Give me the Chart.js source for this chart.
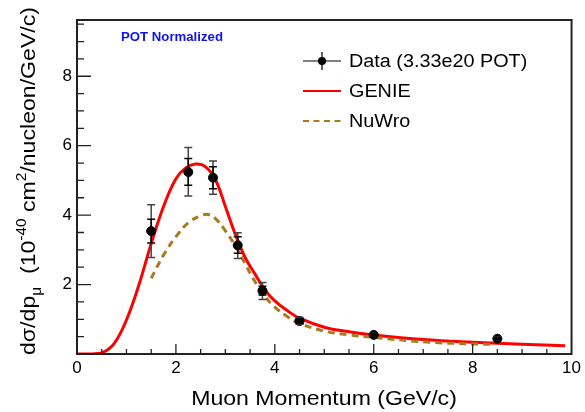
<!DOCTYPE html>
<html>
<head>
<meta charset="utf-8">
<script src="https://cdn.jsdelivr.net/npm/chart.js@4.4.1/dist/chart.umd.min.js"></script>
<style>
  html, body { margin: 0; padding: 0; background: #fff; }
  #wrap { width: 585px; height: 412px; }
</style>
</head>
<body>
<div id="wrap"><canvas id="xsecChart"></canvas></div>
<script>
// Data points (muon momentum bins) with stat and total errors
const dataX = [1.5, 2.25, 2.75, 3.25, 3.75, 4.5, 6.0, 8.5];
const dataY = [3.54, 5.24, 5.08, 3.13, 1.82, 0.95, 0.55, 0.44];
const statLow = [3.20, 4.86, 4.76, 2.90, 1.70, 0.88, 0.52, 0.41];
const statHigh = [3.88, 5.63, 5.39, 3.38, 1.95, 1.02, 0.58, 0.47];
const totLow = [2.78, 4.55, 4.60, 2.75, 1.57, 0.86, 0.51, 0.40];
const totHigh = [4.30, 5.95, 5.56, 3.49, 2.06, 1.06, 0.59, 0.48];

// GENIE prediction
const genieX = [0, 0.25, 0.5, 0.75, 1.0, 1.25, 1.5, 1.75, 2.0, 2.2, 2.4, 2.6, 2.8, 3.0, 3.2, 3.4, 3.6, 3.8, 4.0, 4.25, 4.5, 5.0, 5.5, 6.0, 7.0, 8.0, 9.0, 9.87];
const genieY = [0, 0, 0.03, 0.30, 0.98, 1.98, 3.18, 4.25, 5.05, 5.36, 5.47, 5.39, 5.02, 4.25, 3.45, 2.78, 2.30, 1.85, 1.53, 1.25, 1.03, 0.77, 0.64, 0.55, 0.42, 0.34, 0.28, 0.24];

// NuWro prediction
const nuwroX = [1.5, 1.75, 2.0, 2.25, 2.5, 2.65, 2.8, 3.0, 3.2, 3.4, 3.6, 3.8, 4.0, 4.25, 4.5, 5.0, 5.5, 6.0, 7.0, 8.0, 8.42];
const nuwroY = [2.18, 2.85, 3.38, 3.78, 3.98, 4.02, 3.90, 3.55, 3.12, 2.60, 2.08, 1.66, 1.35, 1.08, 0.88, 0.66, 0.55, 0.48, 0.35, 0.29, 0.28];

const xTicks = [0, 2, 4, 6, 8, 10];
const yTicks = [2, 4, 6, 8];

const legendLabels = ['Data (3.33e20 POT)', 'GENIE', 'NuWro'];

const FONT = '"Liberation Sans", Arial, Helvetica, sans-serif';
const STRETCH = 1.1;
const NUWRO_COLOR = '#a8791f';

function toPoints(xs, ys) {
    return xs.map((x, i) => ({ x: x, y: ys[i] }));
}

// draw text stretched horizontally (reference text is a bit wide)
function stretchText(ctx, text, x, y, align) {
    ctx.save();
    ctx.translate(x, y);
    ctx.scale(STRETCH, 1);
    ctx.textAlign = align || 'left';
    ctx.fillText(text, 0, 0);
    ctx.restore();
}

// ROOT-style frame, inner ticks, error bars, legend and titles
const rootDecor = {
    id: 'rootDecor',
    afterDatasetsDraw(chart) {
        const ctx = chart.ctx;
        const xs = chart.scales.x;
        const ys = chart.scales.y;
        ctx.save();
        dataX.forEach((x, i) => {
            const px = xs.getPixelForValue(x);
            // total error
            ctx.strokeStyle = '#444';
            ctx.lineWidth = 1.5;
            const t1 = ys.getPixelForValue(totHigh[i]);
            const t2 = ys.getPixelForValue(totLow[i]);
            ctx.beginPath();
            ctx.moveTo(px, t1); ctx.lineTo(px, t2);
            ctx.moveTo(px - 4, t1); ctx.lineTo(px + 4, t1);
            ctx.moveTo(px - 4, t2); ctx.lineTo(px + 4, t2);
            ctx.stroke();
            // stat error
            ctx.strokeStyle = '#000';
            const s1 = ys.getPixelForValue(statHigh[i]);
            const s2 = ys.getPixelForValue(statLow[i]);
            ctx.beginPath();
            ctx.moveTo(px, s1); ctx.lineTo(px, s2);
            ctx.moveTo(px - 4, s1); ctx.lineTo(px + 4, s1);
            ctx.moveTo(px - 4, s2); ctx.lineTo(px + 4, s2);
            ctx.stroke();
        });
        ctx.restore();
    },
    afterDraw(chart) {
        const ctx = chart.ctx;
        const area = chart.chartArea;
        const xs = chart.scales.x;
        const ys = chart.scales.y;
        ctx.save();

        // frame
        ctx.strokeStyle = '#222';
        ctx.lineWidth = 2;
        ctx.strokeRect(area.left, area.top, area.right - area.left, area.bottom - area.top);

        // inner ticks, minor every 0.5, major every 2
        ctx.lineWidth = 1.3;
        ctx.beginPath();
        for (let v = 0.5; v < 10; v += 0.5) {
            const px = xs.getPixelForValue(v);
            const len = (v % 2 === 0) ? 10 : 5;
            ctx.moveTo(px, area.bottom); ctx.lineTo(px, area.bottom - len);
        }
        for (let v = 0.5; v <= 9.5; v += 0.5) {
            const py = ys.getPixelForValue(v);
            const len = (v % 2 === 0) ? 14 : 7;
            ctx.moveTo(area.left, py); ctx.lineTo(area.left + len, py);
        }
        ctx.stroke();

        // POT Normalized label
        ctx.fillStyle = '#1010f0';
        ctx.font = 'bold 12px ' + FONT;
        ctx.textBaseline = 'alphabetic';
        stretchText(ctx, 'POT Normalized', 121, 41);

        // legend
        ctx.fillStyle = '#000';
        ctx.font = '18px ' + FONT;
        const lx1 = 303, lx2 = 341, tx = 349;
        const rows = [61, 91, 121];
        // data entry
        ctx.strokeStyle = '#000';
        ctx.lineWidth = 1.2;
        ctx.beginPath();
        ctx.moveTo(lx1, rows[0]); ctx.lineTo(lx2, rows[0]);
        ctx.moveTo((lx1 + lx2) / 2, rows[0] - 9); ctx.lineTo((lx1 + lx2) / 2, rows[0] + 9);
        ctx.stroke();
        ctx.beginPath();
        ctx.arc((lx1 + lx2) / 2, rows[0], 4, 0, Math.PI * 2);
        ctx.fill();
        // GENIE entry
        ctx.strokeStyle = '#ff0000';
        ctx.lineWidth = 2;
        ctx.beginPath();
        ctx.moveTo(lx1, rows[1]); ctx.lineTo(lx2, rows[1]);
        ctx.stroke();
        // NuWro entry
        ctx.strokeStyle = NUWRO_COLOR;
        ctx.setLineDash([6, 4.5]);
        ctx.beginPath();
        ctx.moveTo(lx1, rows[2]); ctx.lineTo(lx2, rows[2]);
        ctx.stroke();
        ctx.setLineDash([]);
        legendLabels.forEach((label, i) => {
            stretchText(ctx, label, tx, rows[i] + 6);
        });

        // x title
        ctx.font = '21px ' + FONT;
        stretchText(ctx, 'Muon Momentum (GeV/c)', 324, 405, 'center');

        // y title with sub/superscripts, rotated
        const parts = [
            { t: 'dσ/dp', s: 21, dy: 0 },
            { t: 'μ', s: 14, dy: 6 },
            { t: '  (10', s: 21, dy: 0 },
            { t: '-40', s: 14, dy: -9 },
            { t: ' cm', s: 21, dy: 0 },
            { t: '2', s: 14, dy: -9 },
            { t: '/nucleon/GeV/c)', s: 21, dy: 0 }
        ];
        let total = 0;
        parts.forEach(p => {
            ctx.font = p.s + 'px ' + FONT;
            p.w = ctx.measureText(p.t).width * STRETCH;
            total += p.w;
        });
        ctx.translate(35, 181);
        ctx.rotate(-Math.PI / 2);
        let cx = -total / 2;
        parts.forEach(p => {
            ctx.font = p.s + 'px ' + FONT;
            ctx.save();
            ctx.translate(cx, p.dy);
            ctx.scale(STRETCH, 1);
            ctx.textAlign = 'left';
            ctx.fillText(p.t, 0, 0);
            ctx.restore();
            cx += p.w;
        });
        ctx.restore();
    }
};

const ctx = document.getElementById('xsecChart').getContext('2d');
const xsecChart = new Chart(ctx, {
    type: 'scatter',
    data: {
        datasets: [
            {
                label: 'Data (3.33e20 POT)',
                data: toPoints(dataX, dataY),
                backgroundColor: '#000',
                borderColor: '#000',
                pointRadius: 4.5,
                pointHoverRadius: 4.5,
                order: 0
            },
            {
                label: 'GENIE',
                data: toPoints(genieX, genieY),
                showLine: true,
                borderColor: '#ff0000',
                borderWidth: 3,
                pointRadius: 0,
                tension: 0.4,
                order: 2
            },
            {
                label: 'NuWro',
                data: toPoints(nuwroX, nuwroY),
                showLine: true,
                borderColor: NUWRO_COLOR,
                borderWidth: 3,
                borderDash: [7, 5],
                pointRadius: 0,
                tension: 0.4,
                order: 1
            }
        ]
    },
    options: {
        responsive: true,
        maintainAspectRatio: false,
        animation: false,
        events: [],
        layout: { padding: { top: 20, right: 12, left: 0, bottom: 0 } },
        plugins: {
            legend: { display: false },
            tooltip: { enabled: false }
        },
        scales: {
            x: {
                type: 'linear',
                min: 0,
                max: 10,
                grid: { display: false, drawTicks: false },
                border: { display: false },
                afterFit: scale => { scale.height = 58; },
                afterBuildTicks: scale => { scale.ticks = xTicks.map(v => ({ value: v })); },
                ticks: {
                    color: '#000',
                    padding: 4,
                    maxRotation: 0,
                    font: { family: FONT, size: 17 }
                }
            },
            y: {
                type: 'linear',
                min: 0,
                max: 9.62,
                grid: { display: false, drawTicks: false },
                border: { display: false },
                afterFit: scale => { scale.width = 77; },
                afterBuildTicks: scale => { scale.ticks = yTicks.map(v => ({ value: v })); },
                ticks: {
                    color: '#000',
                    padding: 5,
                    font: { family: FONT, size: 17 }
                }
            }
        }
    },
    plugins: [rootDecor]
});
</script>
</body>
</html>
